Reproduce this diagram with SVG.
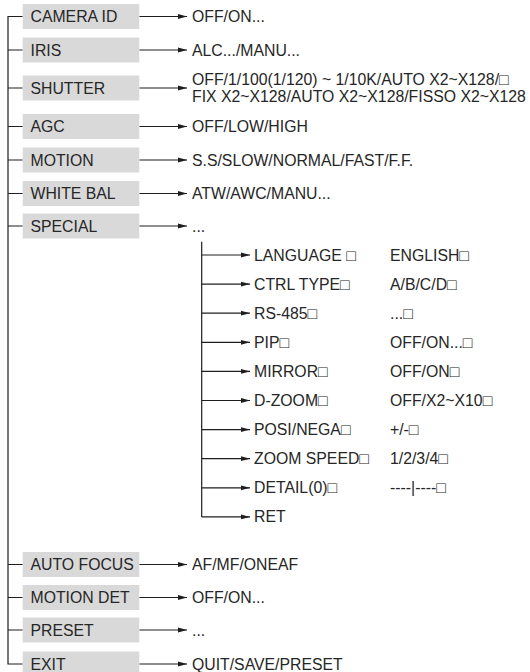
<svg xmlns="http://www.w3.org/2000/svg" width="530" height="672" viewBox="0 0 530 672">
<style>
  .box { fill: #d9d9d9; }
  .t { font-family: "Liberation Sans", Arial, sans-serif; font-size: 15.8px; fill: #262626; }
  .ln { fill: none; stroke: #1e1e1e; stroke-width: 1.2; }
  .ar { fill: none; stroke: #1e1e1e; stroke-width: 1.2; marker-end: url(#ah); }
</style>
<defs>
  <marker id="ah" viewBox="0 0 9 6" refX="9" refY="3" markerWidth="9" markerHeight="6" markerUnits="userSpaceOnUse" orient="auto">
    <path d="M0,0.6 L9,3 L0,5.4 z" fill="#1e1e1e"/>
  </marker>
</defs>
<rect width="530" height="672" fill="#ffffff"/>

<g id="connectors">
  <path class="ln" d="M22.7,16.5 H8 V664 H22.7"/>
  <path class="ln" d="M8,50 H22.7 M8,88 H22.7 M8,126.5 H22.7 M8,160 H22.7 M8,193.5 H22.7 M8,226 H22.7 M8,564.5 H22.7 M8,597.5 H22.7 M8,630 H22.7"/>
  <line class="ar" x1="139.3" y1="16.5" x2="187" y2="16.5"/>
  <line class="ar" x1="139.3" y1="50" x2="187" y2="50"/>
  <line class="ar" x1="139.3" y1="88" x2="187" y2="88"/>
  <line class="ar" x1="139.3" y1="126.5" x2="187" y2="126.5"/>
  <line class="ar" x1="139.3" y1="160" x2="187" y2="160"/>
  <line class="ar" x1="139.3" y1="193.5" x2="187" y2="193.5"/>
  <line class="ar" x1="139.3" y1="226" x2="187" y2="226"/>
  <line class="ar" x1="139.3" y1="564.5" x2="187" y2="564.5"/>
  <line class="ar" x1="139.3" y1="597.5" x2="187" y2="597.5"/>
  <line class="ar" x1="139.3" y1="630" x2="187" y2="630"/>
  <line class="ar" x1="139.3" y1="664" x2="187" y2="664"/>
  <path class="ln" d="M201.7,241.7 V516.9"/>
  <line class="ar" x1="201.7" y1="255" x2="250" y2="255"/>
  <line class="ar" x1="201.7" y1="284.1" x2="250" y2="284.1"/>
  <line class="ar" x1="201.7" y1="313.2" x2="250" y2="313.2"/>
  <line class="ar" x1="201.7" y1="342.3" x2="250" y2="342.3"/>
  <line class="ar" x1="201.7" y1="371.4" x2="250" y2="371.4"/>
  <line class="ar" x1="201.7" y1="400.5" x2="250" y2="400.5"/>
  <line class="ar" x1="201.7" y1="429.6" x2="250" y2="429.6"/>
  <line class="ar" x1="201.7" y1="458.7" x2="250" y2="458.7"/>
  <line class="ar" x1="201.7" y1="487.8" x2="250" y2="487.8"/>
  <line class="ar" x1="201.7" y1="516.9" x2="250" y2="516.9"/>
</g>

<g id="camera-id"><rect class="box" x="22.7" y="4" width="116.6" height="25"/><text class="t" x="30.5" y="22">CAMERA ID</text></g>
<g id="iris"><rect class="box" x="22.7" y="37.5" width="116.6" height="25"/><text class="t" x="30.5" y="55.5">IRIS</text></g>
<g id="shutter"><rect class="box" x="22.7" y="75.5" width="116.6" height="25"/><text class="t" x="30.5" y="93.5">SHUTTER</text></g>
<g id="agc"><rect class="box" x="22.7" y="114" width="116.6" height="25"/><text class="t" x="30.5" y="132">AGC</text></g>
<g id="motion"><rect class="box" x="22.7" y="147.5" width="116.6" height="25"/><text class="t" x="30.5" y="165.5">MOTION</text></g>
<g id="white-bal"><rect class="box" x="22.7" y="181" width="116.6" height="25"/><text class="t" x="30.5" y="199">WHITE BAL</text></g>
<g id="special"><rect class="box" x="22.7" y="213.5" width="116.6" height="25"/><text class="t" x="30.5" y="231.5">SPECIAL</text></g>
<g id="auto-focus"><rect class="box" x="22.7" y="552" width="116.6" height="25"/><text class="t" x="30.5" y="570">AUTO FOCUS</text></g>
<g id="motion-det"><rect class="box" x="22.7" y="585" width="116.6" height="25"/><text class="t" x="30.5" y="603">MOTION DET</text></g>
<g id="preset"><rect class="box" x="22.7" y="617.5" width="116.6" height="25"/><text class="t" x="30.5" y="635.5">PRESET</text></g>
<g id="exit"><rect class="box" x="22.7" y="651.5" width="116.6" height="25"/><text class="t" x="30.5" y="669.5">EXIT</text></g>

<g id="values">
  <text class="t" x="192" y="22">OFF/ON...</text>
  <text class="t" x="192" y="55.5">ALC.../MANU...</text>
  <text class="t" x="192" y="84.6">OFF/1/100(1/120) ~ 1/10K/AUTO X2~X128/□</text>
  <text class="t" x="192" y="102.4">FIX X2~X128/AUTO X2~X128/FISSO X2~X128</text>
  <text class="t" x="192" y="132">OFF/LOW/HIGH</text>
  <text class="t" x="192" y="165.5">S.S/SLOW/NORMAL/FAST/F.F.</text>
  <text class="t" x="192" y="199">ATW/AWC/MANU...</text>
  <text class="t" x="192" y="232">...</text>
  <text class="t" x="192" y="570">AF/MF/ONEAF</text>
  <text class="t" x="192" y="603">OFF/ON...</text>
  <text class="t" x="192" y="635.5">...</text>
  <text class="t" x="192" y="669.5">QUIT/SAVE/PRESET</text>
</g>

<g id="special-items">
  <text class="t" x="254" y="260.5">LANGUAGE □</text><text class="t" x="390" y="260.5">ENGLISH□</text>
  <text class="t" x="254" y="289.6">CTRL TYPE□</text><text class="t" x="390" y="289.6">A/B/C/D□</text>
  <text class="t" x="254" y="318.7">RS-485□</text><text class="t" x="390" y="318.7">...□</text>
  <text class="t" x="254" y="347.8">PIP□</text><text class="t" x="390" y="347.8">OFF/ON...□</text>
  <text class="t" x="254" y="376.9">MIRROR□</text><text class="t" x="390" y="376.9">OFF/ON□</text>
  <text class="t" x="254" y="406">D-ZOOM□</text><text class="t" x="390" y="406">OFF/X2~X10□</text>
  <text class="t" x="254" y="435.1">POSI/NEGA□</text><text class="t" x="390" y="435.1">+/-□</text>
  <text class="t" x="254" y="464.2">ZOOM SPEED□</text><text class="t" x="390" y="464.2">1/2/3/4□</text>
  <text class="t" x="254" y="493.3">DETAIL(0)□</text><text class="t" x="390" y="493.3">----|----□</text>
  <text class="t" x="254" y="522.4">RET</text>
</g>
</svg>
